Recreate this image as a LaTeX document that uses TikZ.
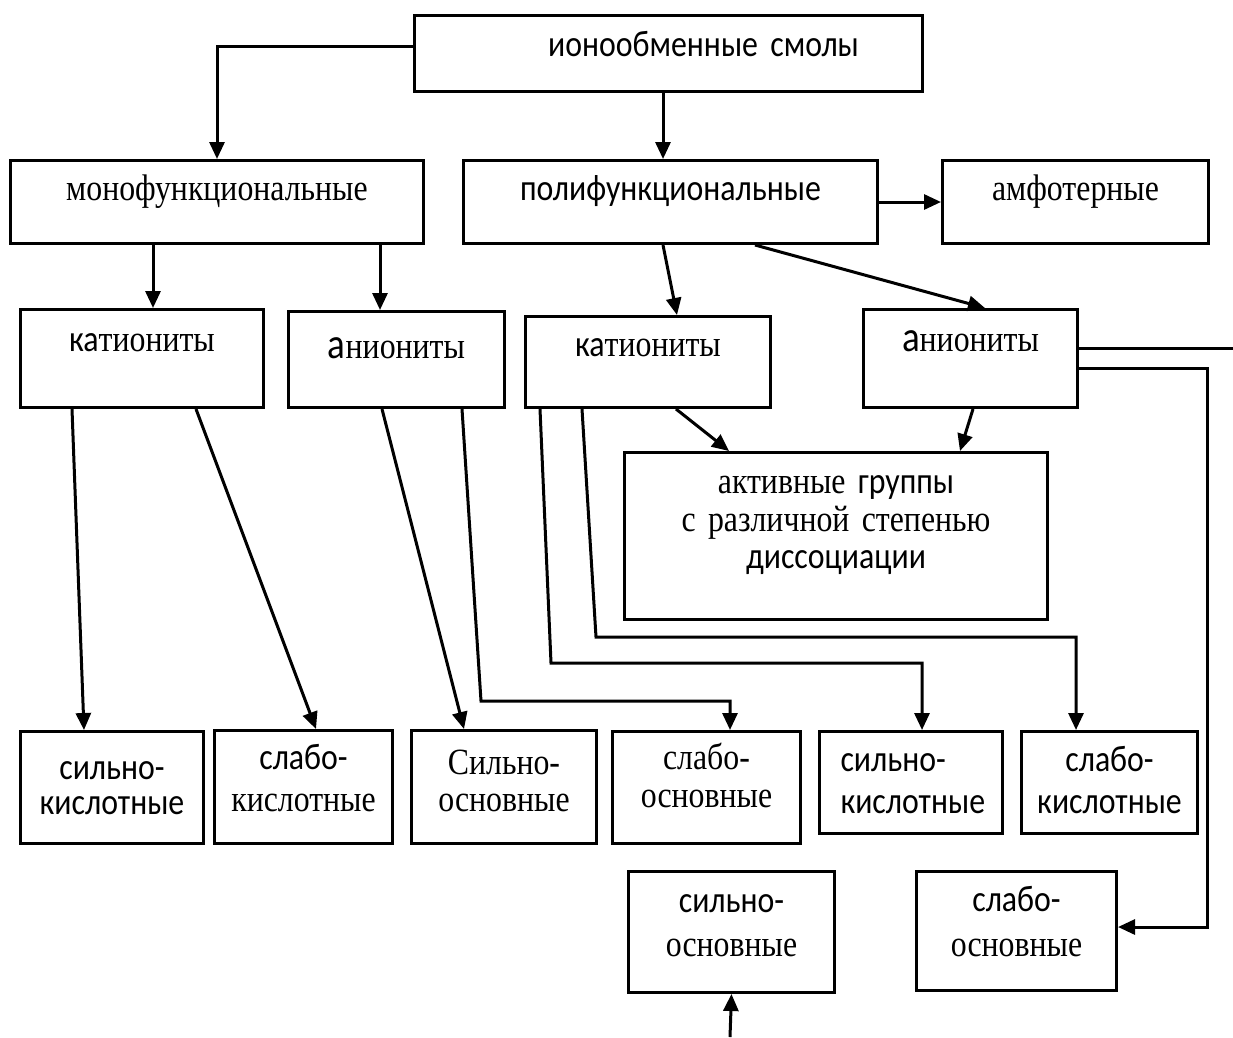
\documentclass[tikz,border=0pt]{standalone}
\usepackage{fontspec}
\setmainfont{Liberation Serif}[FakeStretch=0.86,WordSpace=0.75]
\setsansfont{Carlito}[FakeStretch=0.86,WordSpace=0.75]
\usetikzlibrary{arrows.meta}

\newcommand{\sftxt}[1]{{\sffamily #1}}
\newcommand{\biga}{{\sffamily\fontsize{43}{40}\selectfont а}}

\begin{document}
\begin{tikzpicture}[x=1pt,y=-1pt,line width=3pt,
    font=\fontsize{37}{40}\selectfont,
    >={Triangle[length=17pt,width=15pt]},
    box/.style={draw,anchor=north west,inner sep=0pt,align=center},
    bx/.style n args={3}{text width=#1pt,text height=#2pt,text depth=#3pt},
    lsk/.style={font=\fontsize{37}{#1}\selectfont}]
    \useasboundingbox (0,0) rectangle (1233,1037);

    % upper levels
    \node[box,bx={508}{41}{35}] (top) at (413,14) {\hspace*{70pt}\sftxt{ионообменные смолы}};
    \node[box,bx={413}{40}{43}] (mono) at (9,159) {монофункциональные};
    \node[box,bx={414}{40}{43}] (poly) at (462,159) {\sftxt{полифункциональные}};
    \node[box,bx={266}{40}{43}] (amph) at (941,159) {амфотерные};
    \node[box,bx={243}{42}{56}] (kat1) at (19,308) {\sftxt{ка}тиониты};
    \node[box,bx={216}{47}{49}] (an1) at (287,310) {\biga ниониты};
    \node[box,bx={245}{40}{51}] (kat2) at (524,315) {\sftxt{ка}тиониты};
    \node[box,bx={214}{42}{56}] (an2) at (862,308) {\biga ниониты};
    \node[box,bx={423}{41}{126},lsk=37.5] (act) at (623,451)
      {активные \sftxt{группы}\\с различной степенью\\\sftxt{диссоциации}};

    % lower row
    \node[box,bx={183}{48}{64},lsk=35] (b1) at (19,730) {\sftxt{сильно-}\\\sftxt{кислотные}};
    \node[box,bx={178}{39}{74},lsk=42] (b2) at (213,729) {\sftxt{слабо-}\\кислотные};
    \node[box,bx={185}{44}{69},lsk=37] (b3) at (410,729) {Сильно-\\основные};
    \node[box,bx={188}{38}{74},lsk=38] (b4) at (611,730) {слабо-\\основные};
    \node[box,bx={141}{40}{62},lsk=42,inner xsep=21pt,align=left] (b5) at (818,730)
      {\sftxt{сильно-}\\\sftxt{кислотные}};
    \node[box,bx={176}{40}{62},lsk=42] (b6) at (1020,730) {\sftxt{слабо-}\\\sftxt{кислотные}};
    \node[box,bx={206}{41}{80},lsk=44] (b7) at (627,870) {\sftxt{сильно-}\\основные};
    \node[box,bx={200}{40}{79},lsk=45] (b8) at (915,870) {\sftxt{слабо-}\\основные};

    \coordinate (edge) at (1233,348);
    \coordinate (src) at (730,1037);

    % connectors
    \draw[->] ([yshift=7pt]top.west) -| (mono);
    \draw[->] (663,0 |- top.south) -- (663,0 |- poly.north);
    \draw[->] (poly) -- (amph);
    \draw[->] (153,0 |- mono.south) -- (153,0 |- kat1.north);
    \draw[->] (380,0 |- mono.south) -- (380,0 |- an1.north);
    \draw[->] (663,0 |- poly.south) -- (677,0 |- kat2.north);
    \draw[->] (755,0 |- poly.south) -- (985,0 |- an2.north);
    \draw[->] (676,0 |- kat2.south) -- (729,0 |- act.north);
    \draw[->] (973,0 |- an2.south) -- (960,0 |- act.north);
    \draw[->] (72,0 |- kat1.south) -- (84,0 |- b1.north);
    \draw[->] (196,0 |- kat1.south) -- (316,0 |- b2.north);
    \draw[->] (382,0 |- an1.south) -- (464,0 |- b3.north);
    \draw[->] (462,0 |- an1.south) -- (481,701) -| (730,0 |- b4.north);
    \draw[->] (540,0 |- kat2.south) -- (551,663) -| (922,0 |- b5.north);
    \draw[->] (582,0 |- kat2.south) -- (596,637) -| (1076,0 |- b6.north);
    \draw (an2.east |- edge) -- (edge);
    \draw[->] ([yshift=-10pt]an2.east) -| (1207,927) -- (b8.east |- 1207,927);
    \draw[->] (src) -- (b7.south);
\end{tikzpicture}
\end{document}
